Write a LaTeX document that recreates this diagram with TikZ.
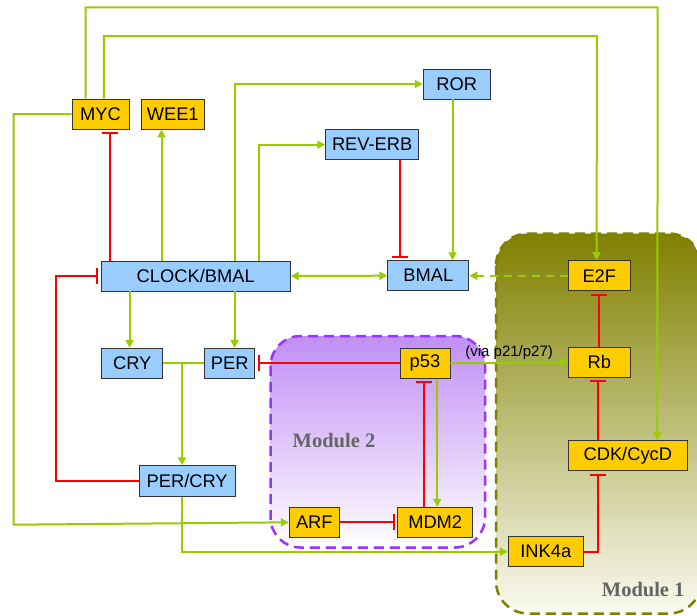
\documentclass[tikz,border=0pt]{standalone}
\usepackage{fontspec}
\setmainfont{Liberation Sans}
\newfontfamily\modfont{Liberation Serif}
\usetikzlibrary{arrows.meta}

\definecolor{actgreen}{RGB}{153,204,0}
\definecolor{inhred}{RGB}{255,0,0}
\definecolor{clockblue}{RGB}{153,204,255}
\definecolor{cellyellow}{RGB}{255,204,0}
\definecolor{modpurple}{RGB}{153,51,255}
\definecolor{modpurplefill}{RGB}{192,142,245}
\definecolor{modolive}{RGB}{128,128,0}
\definecolor{modolivelight}{RGB}{250,250,240}
\definecolor{modtext}{RGB}{100,100,100}

\tikzset{
  gene/.style={draw=black!80, line width=0.9pt, inner sep=0pt, minimum height=30pt,
    font=\fontsize{18.3}{20}\selectfont, text=black},
  clockgene/.style={gene, fill=clockblue},
  cyclegene/.style={gene, fill=cellyellow},
  act/.style={draw=actgreen, line width=2pt, -{Triangle[length=8pt,width=8pt]}},
  actline/.style={draw=actgreen, line width=2pt},
  inh/.style={draw=inhred, line width=2pt, -{Bar[width=16pt,line width=2pt]}, shorten >=2.5pt},
  modlabel/.style={font=\modfont\bfseries\fontsize{20.5}{22}\selectfont, text=modtext},
}

\begin{document}
\begin{tikzpicture}[x=1pt,y=-1pt]
\useasboundingbox (0,0) rectangle (697,616);

% module backgrounds
\draw[line width=2.5pt, draw=modolive, dash pattern=on 10pt off 6pt,
      top color=modolive, bottom color=modolivelight, rounded corners=32pt]
  (496,233.5) rectangle (701,613.5);
\draw[line width=2.5pt, draw=modpurple, dash pattern=on 10pt off 6pt,
      top color=modpurplefill, bottom color=white, rounded corners=30pt]
  (270.5,336) rectangle (485,547.5);
\node[modlabel] (mod2) at (334,441) {Module 2};
\node[modlabel, anchor=east] (mod1) at (688,590) {Module 1};

% genes
\node[cyclegene, minimum width=57pt] (MYC) at (100.5,114) {MYC};
\node[cyclegene, minimum width=63pt] (WEE1) at (172.7,114) {WEE1};
\node[clockgene, minimum width=67pt] (ROR) at (456.7,84) {ROR};
\node[clockgene, minimum width=93pt] (REVERB) at (372.2,144.7) {REV-ERB};
\node[clockgene, minimum width=189pt] (CLOCK) at (195.7,276) {CLOCK/BMAL};
\node[clockgene, minimum width=81pt] (BMAL) at (428.3,275.7) {BMAL};
\node[cyclegene, minimum width=62pt] (E2F) at (599.3,275.7) {E2F};
\node[clockgene, minimum width=61pt] (CRY) at (132.2,363.3) {CRY};
\node[clockgene, minimum width=50pt] (PER) at (229.8,363.3) {PER};
\node[cyclegene, minimum width=50pt] (P53) at (425,363.3) {p53};
\node[cyclegene, minimum width=62pt] (RB) at (599.3,362.3) {Rb};
\node[clockgene, minimum width=96pt, minimum height=31pt] (PERCRY) at (187.2,481.2) {PER/CRY};
\node[cyclegene, minimum width=119pt] (CDK) at (627.8,455.7) {CDK/CycD};
\node[cyclegene, minimum width=50pt] (ARF) at (314.3,522.3) {ARF};
\node[cyclegene, minimum width=75pt] (MDM2) at (435.2,522.3) {MDM2};
\node[cyclegene, minimum width=75pt] (INK4a) at (545.8,551.7) {INK4a};

% MYC outputs
\draw[act] ([xshift=14pt]MYC.north west) |- (657.7,7.3) -- ([xshift=89.4pt]CDK.north west);
\draw[act] ([xshift=32.3pt]MYC.north west) |- (597,36) -- ([xshift=28.7pt]E2F.north west);
\draw[act] (MYC.west) -| (13.7,524.7) -- (ARF.west);

% CLOCK/BMAL outputs
\draw[inh] ([xshift=8.8pt]CLOCK.north west) -- ([xshift=38pt]MYC.south west);
\draw[act] ([xshift=60.8pt]CLOCK.north west) -- ([xshift=20.8pt]WEE1.south west);
\draw[act] ([xshift=134.1pt]CLOCK.north west) |- (ROR.west);
\draw[act] ([xshift=158.5pt]CLOCK.north west) |- (REVERB.west);
\draw[act] ([xshift=28.8pt]CLOCK.south west) -- ([xshift=28.8pt]CLOCK.south west |- CRY.north);
\draw[act] ([xshift=133.8pt]CLOCK.south west) -- ([xshift=133.8pt]CLOCK.south west |- PER.north);
\draw[actgreen, line width=2pt, {Triangle[length=8pt,width=8pt]}-{Triangle[length=8pt,width=8pt]}]
  (CLOCK.east) -- (BMAL.west);

% regulation of BMAL
\draw[act] ([xshift=29.8pt]ROR.south west) -- ([xshift=65.2pt]BMAL.north west);
\draw[inh] ([xshift=74.6pt]REVERB.south west) -- ([xshift=12.5pt]BMAL.north west);
\draw[act, dash pattern=on 8pt off 6pt] (E2F.west) -- (BMAL.east);

% PER / CRY complex
\coordinate (junc) at (182,363.3);
\draw[actline] (CRY.east) -- (PER.west);
\draw[act] (junc) -- (junc |- PERCRY.north);
\draw[inh] (PERCRY.west) -| (56,276) -- (CLOCK.west);
\draw[act] ([xshift=42.8pt]PERCRY.south west) |- (INK4a.west);

% p53 module
\draw[inh] (P53.west) -- (PER.east);
\draw[act] (P53.east) -- node[above=-1pt, font=\fontsize{15}{17}\selectfont, text=black] {(via p21/p27)} (RB.west);
\draw[inh] (ARF.east) -- (MDM2.west);
\draw[inh] ([xshift=26.3pt]MDM2.north west) -- ([xshift=24pt]P53.south west);
\draw[act] ([xshift=37.7pt]P53.south west) -- ([xshift=40pt]MDM2.north west);

% Rb / E2F module
\draw[inh] (RB.north) -- (E2F.south);
\draw[inh] ([xshift=30pt]CDK.north west) -- ([xshift=30pt]RB.south west);
\draw[inh] (INK4a.east) -| ([xshift=30pt]CDK.south west);

\end{tikzpicture}
\end{document}
